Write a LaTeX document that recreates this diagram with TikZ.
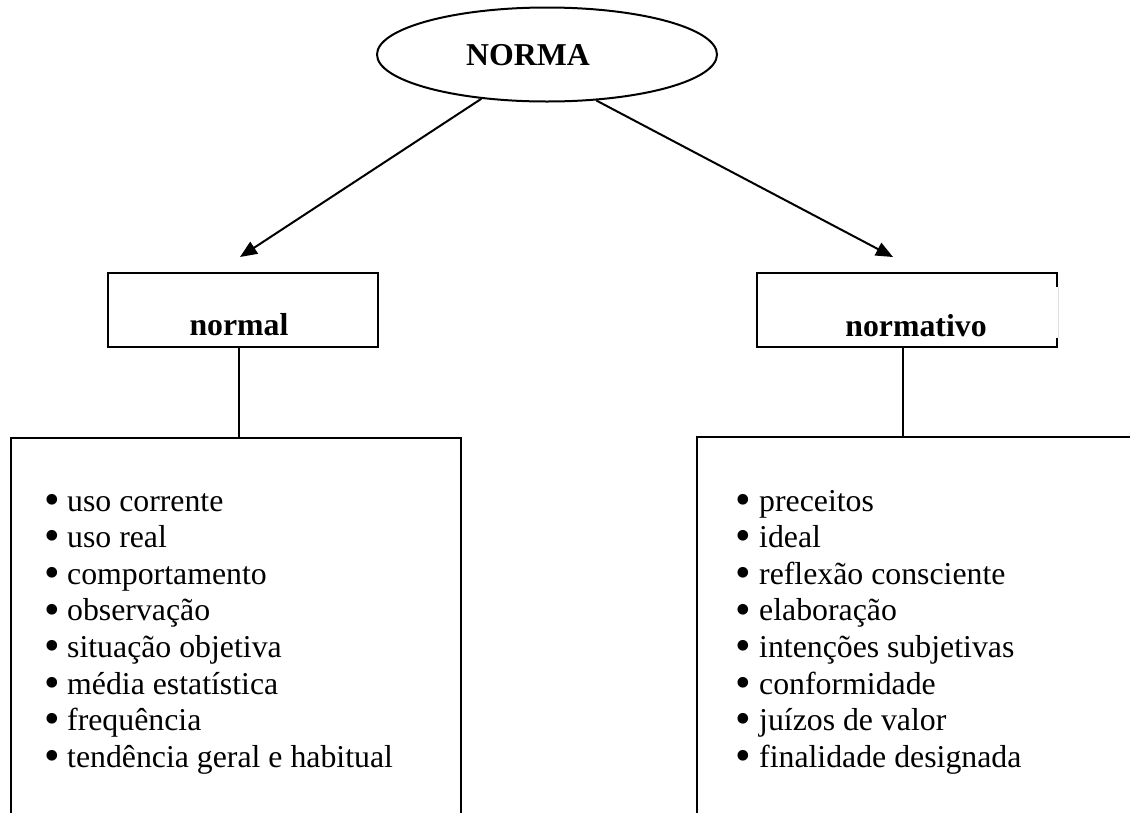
\documentclass[tikz,border=0pt]{standalone}
\usepackage{fontspec}
\setmainfont{Liberation Serif}
\usetikzlibrary{arrows.meta,shapes.geometric,calc}
\newcommand\blt{\raisebox{-3.2pt}[0pt][0pt]{\scalebox{1.4}{\textbullet}}}
\begin{document}
\begin{tikzpicture}[x=1pt,y=-1pt,
  line/.style={line width=2pt, draw=black},
  arr/.style={line, -{Triangle[length=17pt,width=14pt]}},
  ttl/.style={font=\fontsize{31.8}{36}\selectfont\bfseries, inner sep=0pt, anchor=base},
  itm/.style={font=\fontsize{31.8}{36.6}\selectfont, inner sep=0pt, align=left, anchor=base west},
  frame/.style={inner sep=0pt, outer sep=0pt},
  boxed/.style={line, inner sep=0pt, minimum width=270pt, minimum height=74pt}]
\useasboundingbox (0,0) rectangle (1130,812);
\fill[white] (0,0) rectangle (1130,812);

% top ellipse
\node[line, ellipse, inner sep=0pt, minimum width=340pt, minimum height=94pt] (norma) at (547,54.5) {};
\node[ttl] (normatxt) at (528,65) {NORMA};

% left title box
\node[boxed] (normal) at (243,310) {};
\node[ttl] (normaltxt) at (239,335) {normal};

% right title box (right edge mostly missing)
\node[frame, minimum width=300pt, minimum height=74pt] (normativo) at (907,310) {};
\draw[line] ($(normativo.north east)+(0,14)$) -- (normativo.north east) -- (normativo.north west)
  -- (normativo.south west) -- (normativo.south east) -- ++(0,-9);
\draw[gray!25, line width=1pt] ($(normativo.north east)+(1.5,14)$) -- ($(normativo.south east)+(1.5,-9)$);
\node[ttl] (normativotxt) at (916,336) {normativo};

% bottom list boxes (open at the page edges)
\node[frame, minimum width=450pt, minimum height=392.5pt] (listL) at (236,633.75) {};
\draw[line] (listL.south west) -- (listL.north west) -- (listL.north east) -- (listL.south east);
\node[frame, minimum width=453pt, minimum height=393.5pt] (listR) at (923.5,633.25) {};
\draw[line] (listR.south west) -- (listR.north west) -- (listR.north east);

% stems
\draw[line] (normal.south -| normaltxt) -- (listL.north -| normaltxt);
\draw[line] ([xshift=-4pt]normativo.south) -- ([xshift=-4pt]normativo.south |- listR.north);

% arrows
\coordinate (tipL) at (240,257);
\coordinate (tipR) at (893,257);
\draw[arr] (norma.214) -- (tipL);
\draw[arr] (norma.317) -- (tipR);

% lists (base anchor = baseline of the last line)
\node[itm] (itemsL) at (44.3,767.2) {\blt\hspace{7.1pt}uso corrente\\
  \blt\hspace{7.1pt}uso real\\
  \blt\hspace{7.1pt}comportamento\\
  \blt\hspace{7.1pt}observação\\
  \blt\hspace{7.1pt}situação objetiva\\
  \blt\hspace{7.1pt}média estatística\\
  \blt\hspace{7.1pt}frequência\\
  \blt\hspace{7.1pt}tendência geral e habitual};
\node[itm] (itemsR) at (735.3,767.2) {\blt\hspace{8.1pt}preceitos\\
  \blt\hspace{8.1pt}ideal\\
  \blt\hspace{8.1pt}reflexão consciente\\
  \blt\hspace{8.1pt}elaboração\\
  \blt\hspace{8.1pt}intenções subjetivas\\
  \blt\hspace{8.1pt}conformidade\\
  \blt\hspace{8.1pt}juízos de valor\\
  \blt\hspace{8.1pt}finalidade designada};
\end{tikzpicture}
\end{document}
